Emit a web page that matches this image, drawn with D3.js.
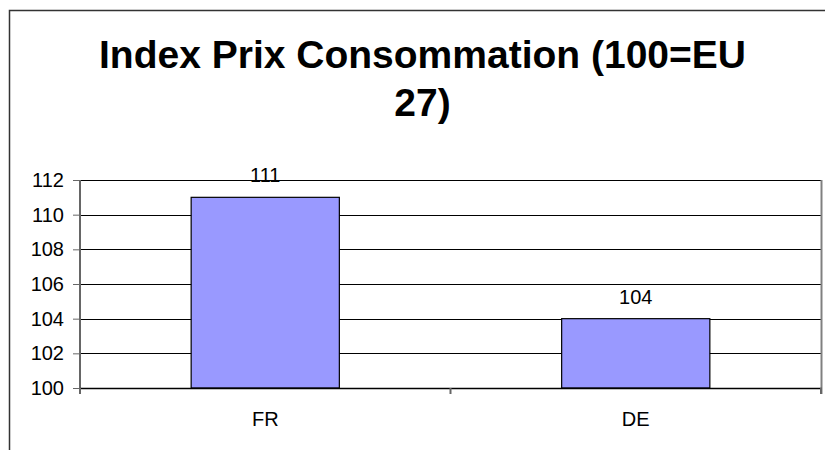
<!DOCTYPE html>
<html>
<head>
<meta charset="utf-8">
<script src="https://cdn.jsdelivr.net/npm/d3@7"></script>
<style>
  body { margin: 0; background: #fff; }
  svg { display: block; font-family: "Liberation Sans", Arial, sans-serif; }
</style>
</head>
<body>
<div id="chart"></div>
<script>
// chart data
const categories = ["FR", "DE"];
const values = [111, 104];
const yTicks = [100, 102, 104, 106, 108, 110, 112];
const titleLines = ["Index Prix Consommation (100=EU", "27)"];

const w = 825;
const h = 450;
const plot = {left: 80, right: 821, top: 180, bottom: 388};

const svg = d3.select("#chart")
    .append("svg")
    .attr("width", w)
    .attr("height", h);

// outer chart border (continues past the right/bottom edge)
svg.append("rect")
    .attr("x", 9.5)
    .attr("y", 10.5)
    .attr("width", 900)
    .attr("height", 500)
    .attr("fill", "#fff")
    .attr("stroke", "#333")
    .attr("stroke-width", 1.5);

// title
svg.append("g")
    .selectAll("text")
    .data(titleLines)
    .enter()
    .append("text")
        .attr("x", 422.5)
        .attr("y", (d, i) => 68 + i * 48)
        .attr("text-anchor", "middle")
        .attr("font-size", 39)
        .attr("font-weight", "bold")
        .text(d => d);

const x = d3.scaleBand()
    .domain(categories)
    .range([plot.left, plot.right])
    .paddingInner(0)
    .paddingOuter(0);

const y = d3.scaleLinear()
    .domain([100, 112])
    .range([plot.bottom, plot.top]);

const barWidth = x.bandwidth() / 2.5;

// gridlines
svg.append("g")
    .selectAll("line")
    .data(yTicks.slice(1))
    .enter()
    .append("line")
        .attr("x1", plot.left)
        .attr("x2", plot.right)
        .attr("y1", d => Math.round(y(d)) + 0.5)
        .attr("y2", d => Math.round(y(d)) + 0.5)
        .attr("stroke", "#000")
        .attr("stroke-width", 1);

// right border of plot area
svg.append("line")
    .attr("x1", plot.right + 0.5)
    .attr("x2", plot.right + 0.5)
    .attr("y1", plot.top)
    .attr("y2", plot.bottom + 6)
    .attr("stroke", "#808080")
    .attr("stroke-width", 2);

// bars
svg.append("g")
    .selectAll("rect")
    .data(values)
    .enter()
    .append("rect")
        .attr("x", (d, i) => x(categories[i]) + x.bandwidth() / 2 - barWidth / 2)
        .attr("y", d => y(d))
        .attr("width", barWidth)
        .attr("height", d => y(100) - y(d))
        .attr("fill", "#9999ff")
        .attr("stroke", "#000")
        .attr("stroke-width", 1.2);

// value labels
svg.append("g")
    .selectAll("text")
    .data(values)
    .enter()
    .append("text")
        .attr("x", (d, i) => x(categories[i]) + x.bandwidth() / 2)
        .attr("y", d => y(d) - 15)
        .attr("text-anchor", "middle")
        .attr("font-size", 20)
        .text(d => d);

// y axis
const yAxis = d3.axisLeft(y)
    .tickValues(yTicks)
    .tickSize(7)
    .tickPadding(9);

const yg = svg.append("g")
    .attr("transform", `translate(${plot.left}, 0)`)
    .call(yAxis);
yg.select(".domain")
    .attr("stroke", "#666")
    .attr("stroke-width", 2)
    .attr("d", `M0,${plot.top}V${plot.bottom + 6}`);
yg.selectAll(".tick line").attr("stroke", "#666");
yg.selectAll(".tick text")
    .attr("font-size", 20)
    .attr("font-family", "Liberation Sans, Arial, sans-serif")
    .attr("fill", "#000");

// x axis
const xg = svg.append("g")
    .attr("transform", `translate(0, ${plot.bottom})`)
    .call(d3.axisBottom(x).tickSize(0).tickPadding(24));
xg.select(".domain").attr("stroke", "#000").attr("stroke-width", 1.5);
xg.selectAll(".tick text")
    .attr("font-size", 20)
    .attr("font-family", "Liberation Sans, Arial, sans-serif")
    .attr("fill", "#000");

// category boundary ticks
xg.append("g")
    .selectAll("line")
    .data([plot.left, x(categories[1]), plot.right])
    .enter()
    .append("line")
        .attr("x1", d => d)
        .attr("x2", d => d)
        .attr("y1", 0)
        .attr("y2", 6)
        .attr("stroke", "#666")
        .attr("stroke-width", 2);
</script>
</body>
</html>
